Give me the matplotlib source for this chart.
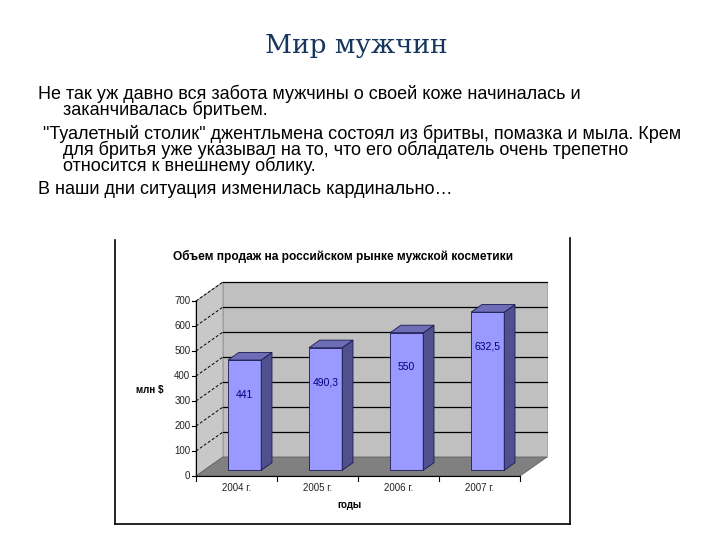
import matplotlib
matplotlib.use("Agg")
import matplotlib.pyplot as plt
from matplotlib.patches import Polygon
from matplotlib.lines import Line2D

plt.rcParams['font.family'] = ['Liberation Sans', 'DejaVu Sans']

years = ["2004 г.", "2005 г.", "2006 г.", "2007 г."]
sales = [441, 490.3, 550, 632.5]
yticks = [0, 100, 200, 300, 400, 500, 600, 700]

IND = "     "
paragraphs = [
    ("Не так уж давно вся забота мужчины о своей коже начиналась и\n"
     + IND + "заканчивалась бритьем.", 38, 85),
    (" \"Туалетный столик\" джентльмена состоял из бритвы, помазка и мыла. Крем\n"
     + IND + "для бритья уже указывал на то, что его обладатель очень трепетно\n"
     + IND + "относится к внешнему облику.", 38, 125),
    ("В наши дни ситуация изменилась кардинально…", 38, 181),
]

W, H = 720, 540
fig = plt.figure(figsize=(7.2, 5.4), dpi=100)
fig.patch.set_facecolor("white")

def px(x, y):
    return x / W, 1 - y / H

fig.text(*px(356, 45), "Мир мужчин", ha="center", va="center",
         fontsize=19, family="DejaVu Serif", color="#17365d")
for txt, x, y in paragraphs:
    fig.text(*px(x, y), txt, ha="left", va="top", fontsize=13,
             linespacing=0.82, color="black")

# chart frame (left, bottom, right)
for xs, ys in [((115, 115), (240, 524)), ((115, 570), (524, 524)), ((570, 570), (238, 524))]:
    fig.add_artist(Line2D([xs[0] / W, xs[1] / W], [1 - ys[0] / H, 1 - ys[1] / H],
                          color="black", lw=1.2))

# chart axes: category i -> 236.5 + 81*i px, value v -> 476 - 0.25*v px
ax = fig.add_axes([115 / W, 16 / H, 455 / W, 284 / H])
ax.set_xlim(-1.5, 4.117)
ax.set_ylim(-192, 944)
ax.axis("off")

DX, DY = 0.333, 76
top = yticks[-1]
n = len(years)
x0, x1 = -0.5, n - 0.5

# walls and floor
ax.add_patch(Polygon([(x0 + DX, DY), (x1 + DX, DY), (x1 + DX, top + DY), (x0 + DX, top + DY)],
                     closed=True, fc="#c0c0c0", ec="#a0a0a0", lw=0.6, zorder=1))
ax.add_patch(Polygon([(x0, 0), (x0 + DX, DY), (x0 + DX, top + DY), (x0, top)],
                     closed=True, fc="#c8c8c8", ec="#909090", lw=0.6, zorder=1))
ax.add_patch(Polygon([(x0, 0), (x1, 0), (x1 + DX, DY), (x0 + DX, DY)],
                     closed=True, fc="#808080", ec="#606060", lw=0.6, zorder=1))

for v in yticks[1:]:
    ax.plot([x0 + DX, x1 + DX], [v + DY, v + DY], color="black", lw=0.9, zorder=2)
    ax.plot([x0, x0 + DX], [v, v + DY], color="black", lw=0.7, ls=(0, (3, 2)), zorder=2)

# axes lines and ticks
ax.plot([x0, x0], [0, top], color="black", lw=0.8, zorder=3)
ax.plot([x0, x1], [0, 0], color="black", lw=0.8, zorder=3)
for v in yticks:
    ax.plot([x0 - 0.05, x0], [v, v], color="black", lw=0.8, zorder=3)
    ax.text(x0 - 0.07, v, str(v), ha="right", va="center", fontsize=7, color="#222222")
for k in range(n + 1):
    ax.plot([x0 + k, x0 + k], [0, -18], color="black", lw=0.8, zorder=3)

# bars
f0, f1 = 0.3, 0.7
w = 0.41
xc = [i + f0 * DX for i in range(n)]
ax.bar(xc, sales, width=w, bottom=f0 * DY, color="#9999ff", edgecolor="#1a1a50",
       linewidth=0.6, zorder=4)
d = f1 - f0
for i, v in enumerate(sales):
    l, r = xc[i] - w / 2, xc[i] + w / 2
    yb, yt = f0 * DY, v + f0 * DY
    ax.add_patch(Polygon([(r, yb), (r + d * DX, yb + d * DY), (r + d * DX, yt + d * DY), (r, yt)],
                         closed=True, fc="#50508f", ec="#1a1a50", lw=0.6, zorder=4))
    ax.add_patch(Polygon([(l, yt), (r, yt), (r + d * DX, yt + d * DY), (l + d * DX, yt + d * DY)],
                         closed=True, fc="#6e6eb8", ec="#1a1a50", lw=0.6, zorder=4))
    lab = ("%g" % v).replace(".", ",")
    ax.text(xc[i], yt - 138, lab, ha="center", va="center", fontsize=7.5, color="#000080", zorder=5)

for i, yr in enumerate(years):
    ax.text(i, -48, yr, ha="center", va="center", fontsize=7, color="#222222")

ax.text(1.4, -116, "годы", ha="center", va="center", fontsize=7, fontweight="bold")
ax.text(-1.07, 344, "млн $", ha="center", va="center", fontsize=7, fontweight="bold")
ax.text(1.31, 880, "Объем продаж на российском рынке мужской косметики",
        ha="center", va="center", fontsize=8.6, fontweight="bold")

fig.savefig("out.png", dpi=100, facecolor="white")
